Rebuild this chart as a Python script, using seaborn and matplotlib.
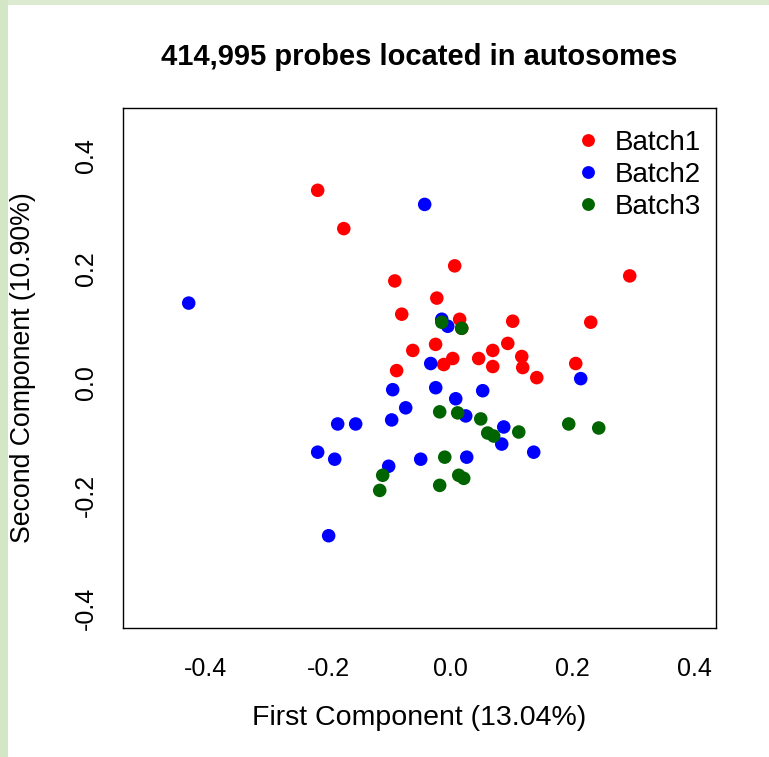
import matplotlib
matplotlib.use("Agg")
import matplotlib.pyplot as plt
from matplotlib.patches import Rectangle
import numpy as np
import pandas as pd
import seaborn as sns

# PCA scores of the samples, grouped by processing batch
batch1_pc1 = [-0.2169, -0.1741, -0.0905, -0.0791, -0.0610, -0.0875, 0.0077, -0.0216,
              -0.0236, 0.0158, 0.0192, 0.0045, -0.0103, 0.0470, 0.0701, 0.0701,
              0.0947, 0.1028, 0.1176, 0.1192, 0.1422, 0.2061, 0.2307, 0.2946]
batch1_pc2 = [0.3387, 0.2711, 0.1787, 0.120, 0.056, 0.0204, 0.2053, 0.1484,
              0.0667, 0.111, 0.0951, 0.0418, 0.0311, 0.0418, 0.056, 0.0276,
              0.0684, 0.1076, 0.0453, 0.0258, 0.008, 0.0329, 0.1058, 0.1876]

batch2_pc1 = [-0.4283, -0.0415, -0.0135, -0.0037, -0.0316, -0.0939, -0.0234, 0.0094,
              0.0536, 0.2143, -0.0726, -0.0956, -0.1841, -0.1546, 0.0258, 0.0881,
              0.0848, 0.1372, 0.0274, -0.0480, -0.1005, -0.2169, -0.1890, -0.1989]
batch2_pc2 = [0.1396, 0.3138, 0.1111, 0.0987, 0.0329, -0.0133, -0.0098, -0.0293,
              -0.0151, 0.0062, -0.0453, -0.0667, -0.0738, -0.0738, -0.0596, -0.0791,
              -0.1093, -0.1236, -0.1324, -0.136, -0.1484, -0.1236, -0.136, -0.2711]

batch3_pc1 = [-0.0135, 0.0192, -0.0169, 0.0126, 0.0504, 0.0618, 0.0716, 0.1127,
              0.1946, 0.2438, -0.0086, 0.0143, 0.0225, -0.0169, -0.1103, -0.1152]
batch3_pc2 = [0.1058, 0.0951, -0.0524, -0.0542, -0.0649, -0.0898, -0.0951, -0.088,
              -0.0738, -0.0809, -0.1324, -0.1644, -0.1698, -0.1822, -0.1644, -0.1911]

batch_names = ["Batch1", "Batch2", "Batch3"]
batch_colors = ["#ff0000", "#0000ff", "#006400"]

x_ticks = [-0.4, -0.2, 0.0, 0.2, 0.4]
y_ticks = [-0.4, -0.2, 0.0, 0.2, 0.4]

title_text = "414,995 probes located in autosomes"
x_label = "First Component (13.04%)"
y_label = "Second Component (10.90%)"

df = pd.concat([
    pd.DataFrame({"PC1": batch1_pc1, "PC2": batch1_pc2, "Batch": batch_names[0]}),
    pd.DataFrame({"PC1": batch2_pc1, "PC2": batch2_pc2, "Batch": batch_names[1]}),
    pd.DataFrame({"PC1": batch3_pc1, "PC2": batch3_pc2, "Batch": batch_names[2]}),
], ignore_index=True)

sns.set_style("white")
plt.rcParams["font.family"] = ["Liberation Sans", "DejaVu Sans"]
plt.rcParams["text.color"] = "black"
plt.rcParams["axes.labelcolor"] = "black"
plt.rcParams["xtick.color"] = "black"
plt.rcParams["ytick.color"] = "black"

W, H = 769, 757
fig = plt.figure(figsize=(W / 100, H / 100), dpi=100)
fig.patch.set_facecolor("white")

# thin pale-green frame along the top and left edges
fig.patches.append(Rectangle((0, 1 - 5 / H), 1, 5 / H, transform=fig.transFigure,
                             facecolor="#dcebd0", edgecolor="none", zorder=0))
fig.patches.append(Rectangle((0, 0), 8 / W, 1, transform=fig.transFigure,
                             facecolor="#d3e6c5", edgecolor="none", zorder=0))

ax_l, ax_r, ax_t, ax_b = 123, 716, 108, 628
ax = fig.add_axes([ax_l / W, 1 - ax_b / H, (ax_r - ax_l) / W, (ax_b - ax_t) / H])

sns.scatterplot(data=df, x="PC1", y="PC2", hue="Batch", hue_order=batch_names,
                palette=batch_colors, s=95, linewidth=0, ax=ax, legend=True)

# R-style axis limits with 4% padding
xlo, xhi = -0.5, 0.4
ylo, yhi = -0.4, 0.45
ax.set_xlim(xlo - 0.04 * (xhi - xlo), xhi + 0.04 * (xhi - xlo))
ax.set_ylim(ylo - 0.04 * (yhi - ylo), yhi + 0.04 * (yhi - ylo))

ax.set_xticks(x_ticks)
ax.set_yticks(y_ticks)
ax.set_xticklabels([f"{v:.1f}" for v in x_ticks])
ax.set_yticklabels([f"{v:.1f}" for v in y_ticks], rotation=90, va="center")
ax.tick_params(axis="both", direction="out", length=10, width=1.0, color="black",
               labelsize=18, labelcolor="black")
ax.tick_params(axis="x", pad=11)
ax.tick_params(axis="y", pad=8)
for sp in ax.spines.values():
    sp.set_visible(True)
    sp.set_color("black")
    sp.set_linewidth(1.0)

ax.set_xlabel(x_label, fontsize=20.5, va="center", color="black")
ax.set_ylabel(y_label, fontsize=19.2, va="center", color="black")
ax.xaxis.set_label_coords(0.5, -(718 - ax_b) / (ax_b - ax_t))
ax.yaxis.set_label_coords(-(ax_l - 23) / (ax_r - ax_l), 0.5)

fig.text(0.5 * (ax_l + ax_r) / W, 1 - 57 / H, title_text, fontsize=21,
         fontweight="bold", ha="center", va="center", color="black")

leg = ax.legend(loc="upper left", bbox_to_anchor=((574 - ax_l) / (ax_r - ax_l),
                                                 1 - (130 - ax_t) / (ax_b - ax_t)),
                frameon=False, fontsize=20, handlelength=1.0, handletextpad=0.47,
                labelspacing=0.22, borderpad=0, borderaxespad=0, markerscale=0.95)
for t in leg.get_texts():
    t.set_color("black")

fig.savefig("out.png", dpi=100, facecolor=fig.get_facecolor())
